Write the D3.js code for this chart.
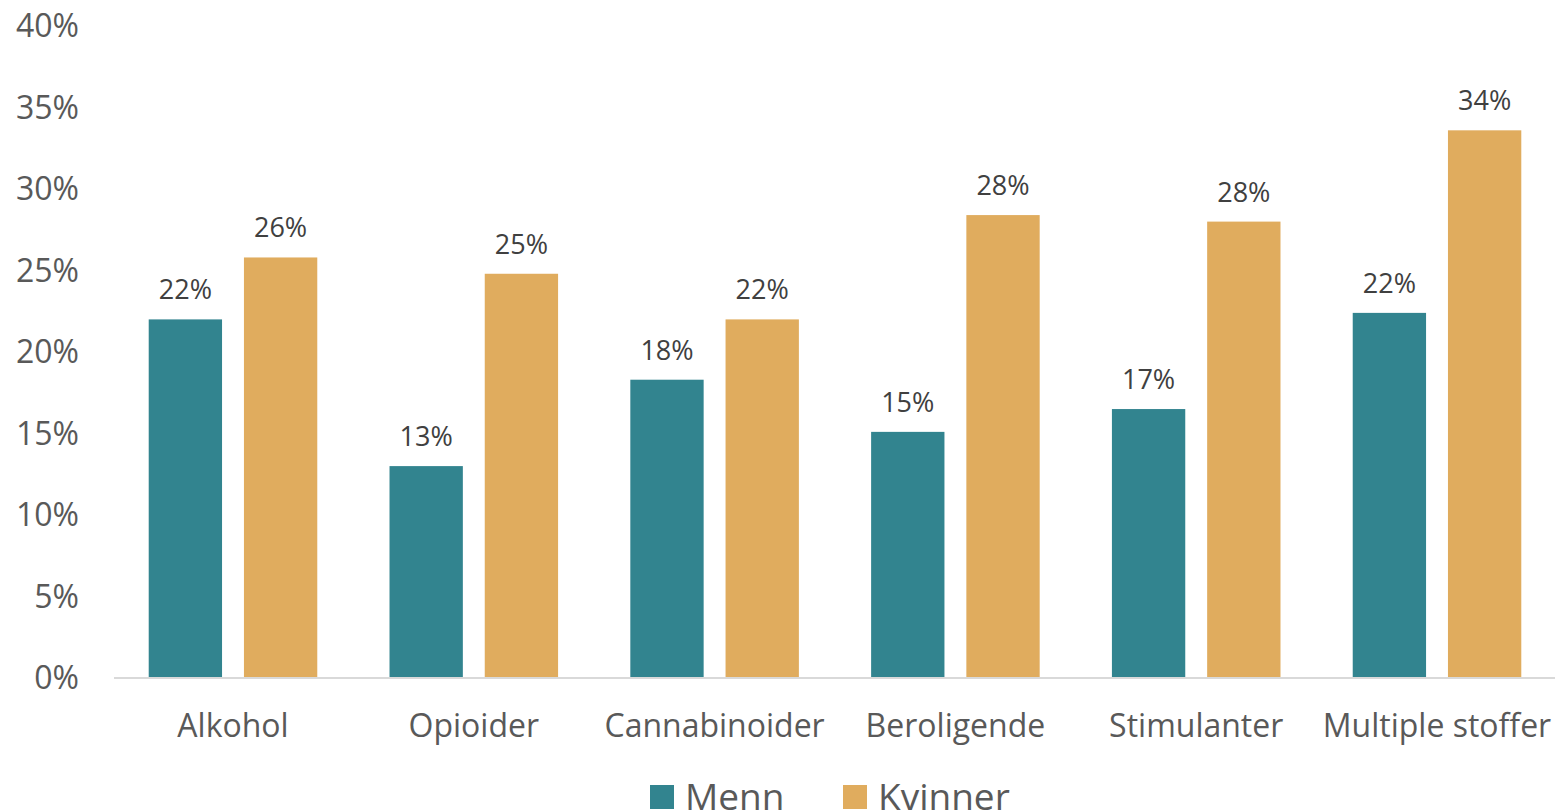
<!DOCTYPE html>
<html>
<head>
<meta charset="utf-8">
<script src="https://cdn.jsdelivr.net/npm/d3@7"></script>
<style>
  body { margin: 0; background: #fff; }
  svg text { font-family: "Open Sans", sans-serif; }
</style>
</head>
<body>
<svg id="canvas"></svg>
<script>
// data
const categories = ["Alkohol", "Opioider", "Cannabinoider", "Beroligende", "Stimulanter", "Multiple stoffer"]
const series = ["Menn", "Kvinner"]
const menn = [22.0, 13.0, 18.3, 15.1, 16.5, 22.4]
const kvinner = [25.8, 24.8, 22.0, 28.4, 28.0, 33.6]
const yTicks = [0, 5, 10, 15, 20, 25, 30, 35, 40]
const colors = ["#32848f", "#e0ac5e"]

const W = 1557, H = 811
const margin = {top: 26, right: 2, bottom: 133, left: 115}
const width = W - margin.left - margin.right
const height = H - margin.top - margin.bottom

const svg = d3.select("#canvas").attr("width", W).attr("height", H)
const g = svg.append("g").attr("transform", `translate(${margin.left},${margin.top})`)

const x0 = d3.scaleBand().domain(categories).range([0, width]).paddingInner(0.30).paddingOuter(0.14)
const x1 = d3.scaleBand().domain(series).range([0, x0.bandwidth()]).paddingInner(0.23)
const y = d3.scaleLinear().domain([0, 40]).range([height, 0])

// y labels
g.selectAll(".ytick").data(yTicks).enter().append("text")
    .attr("x", -36).attr("y", d => y(d)).attr("dy", "0.35em")
    .attr("text-anchor", "end")
    .attr("fill", "#595959").attr("font-size", 32)
    .text(d => d + "%")

// bars
const rows = categories.map((c, i) => ({cat: c, vals: [menn[i], kvinner[i]]}))
const grp = g.selectAll(".cat").data(rows).enter().append("g")
    .attr("transform", d => `translate(${x0(d.cat)},0)`)

grp.selectAll("rect").data(d => d.vals.map((v, j) => ({s: series[j], v, j}))).enter().append("rect")
    .attr("x", d => x1(d.s)).attr("width", x1.bandwidth())
    .attr("y", d => y(d.v)).attr("height", d => height - y(d.v))
    .attr("fill", d => colors[d.j])

grp.selectAll(".lab").data(d => d.vals.map((v, j) => ({s: series[j], v, j}))).enter().append("text")
    .attr("x", d => x1(d.s) + x1.bandwidth() / 2)
    .attr("y", d => y(d.v) - 20)
    .attr("text-anchor", "middle")
    .attr("fill", "#404040").attr("font-size", 27)
    .text(d => Math.round(d.v) + "%")

// axis line
g.append("line").attr("x1", -1).attr("x2", width).attr("y1", height).attr("y2", height)
    .attr("stroke", "#d9d9d9").attr("stroke-width", 2)

// category labels
g.selectAll(".xlab").data(categories).enter().append("text")
    .attr("x", d => x0(d) + x0.bandwidth() / 2)
    .attr("y", height + 59)
    .attr("text-anchor", "middle")
    .attr("fill", "#595959").attr("font-size", 32)
    .text(d => d)

// legend
const legendX = [650, 843]
const leg = svg.selectAll(".leg").data(series).enter().append("g")
    .attr("transform", (d, i) => `translate(${legendX[i]},785)`)
leg.append("rect").attr("width", 24).attr("height", 24).attr("fill", (d, i) => colors[i])
leg.append("text").attr("x", 35).attr("y", 12).attr("dy", "0.35em")
    .attr("fill", "#595959").attr("font-size", 37)
    .text(d => d)
</script>
</body>
</html>
